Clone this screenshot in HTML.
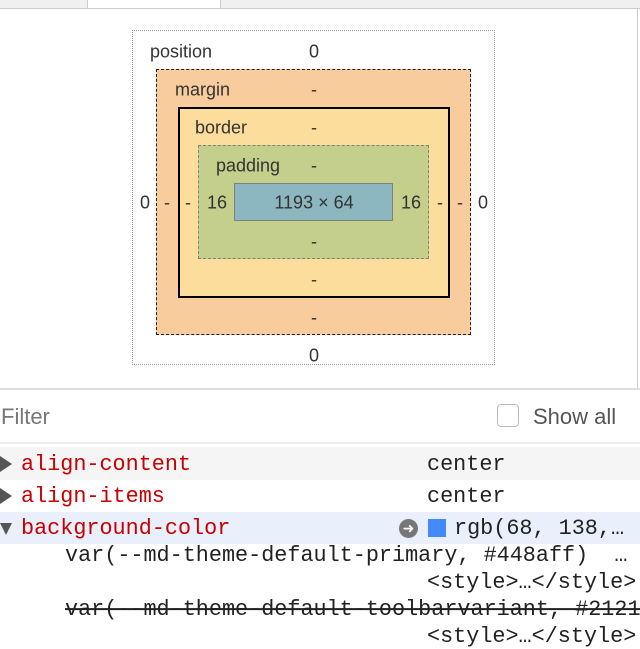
<!DOCTYPE html>
<html><head><style>
body{margin:0;width:640px;height:648px;background:#fff;position:relative;overflow:hidden;font-family:"Liberation Sans",sans-serif;color:#222}
.a{position:absolute}
.t{position:absolute;font-size:18px;transform:translate(-50%,-50%);white-space:nowrap;color:#333}
.tl{position:absolute;font-size:18px;transform:translateY(-50%);white-space:nowrap;color:#333}
.m{position:absolute;font-family:"Liberation Mono",monospace;font-size:21.8px;white-space:pre;line-height:1;transform:translateY(-50%)}
.r{color:#c80000}
</style></head><body>
<div class="a" style="left:0;top:0;width:640px;height:8px;background:#f0f0f0;border-bottom:1px solid #ccc"></div>
<div class="a" style="left:87px;top:0;width:132px;height:8px;background:#fff;border-left:1px solid #ccc;border-right:1px solid #ccc"></div>
<div class="a" style="left:637px;top:9px;width:1px;height:380px;background:#ccc"></div>

<div class="a" style="left:132px;top:30px;width:361px;height:333px;border:1px dotted #999"></div>
<div class="a" style="left:156px;top:69px;width:313px;height:264px;border:1px dashed #222;background:#f9cc9d"></div>
<div class="a" style="left:178px;top:107px;width:268px;height:187px;border:2px solid #000;background:#fddd9b"></div>
<div class="a" style="left:198px;top:145px;width:229px;height:112px;border:1px dashed #808080;background:#c3cf8a"></div>
<div class="a" style="left:234px;top:183px;width:157px;height:36px;border:1px solid #808080;background:#8cb6c0"></div>

<div class="tl" style="left:150px;top:52px">position</div><div class="t" style="left:314px;top:52px">0</div>
<div class="tl" style="left:175px;top:90px">margin</div><div class="t" style="left:314px;top:90px">-</div>
<div class="tl" style="left:195px;top:128px">border</div><div class="t" style="left:314px;top:128px">-</div>
<div class="tl" style="left:216px;top:166px">padding</div><div class="t" style="left:314px;top:166px">-</div>
<div class="t" style="left:145px;top:203px">0</div><div class="t" style="left:167px;top:203px">-</div><div class="t" style="left:188px;top:203px">-</div><div class="t" style="left:217px;top:203px">16</div>
<div class="t" style="left:314px;top:203px">1193 × 64</div>
<div class="t" style="left:411px;top:203px">16</div><div class="t" style="left:440px;top:203px">-</div><div class="t" style="left:460px;top:203px">-</div><div class="t" style="left:483px;top:203px">0</div>
<div class="t" style="left:314px;top:242px">-</div><div class="t" style="left:314px;top:280px">-</div><div class="t" style="left:314px;top:318px">-</div><div class="t" style="left:314px;top:356px">0</div>

<div class="a" style="left:0;top:388px;width:640px;height:2px;background:#ddd"></div>
<div class="tl" style="left:1px;top:417px;font-size:22px;color:#777">Filter</div>
<div class="a" style="left:497px;top:404px;width:20px;height:21px;border:1px solid #bbb;border-radius:4px"></div>
<div class="tl" style="left:533px;top:417px;font-size:22px;color:#555">Show all</div>
<div class="a" style="left:0;top:442px;width:640px;height:2px;background:#eee"></div>

<div class="a" style="left:0;top:447px;width:640px;height:33px;background:#f5f5f5"></div>
<div class="a" style="left:0;top:512px;width:640px;height:32px;background:#eaf0fb"></div>
<div class="a" style="left:0;top:456px;width:0;height:0;border-left:12px solid #555;border-top:8px solid transparent;border-bottom:8px solid transparent"></div>
<div class="a" style="left:0;top:488px;width:0;height:0;border-left:12px solid #555;border-top:8px solid transparent;border-bottom:8px solid transparent"></div>
<div class="a" style="left:0;top:523px;width:0;height:0;border-top:12px solid #555;border-left:6px solid transparent;border-right:6px solid transparent"></div>
<div class="m r" style="left:21px;top:465px">align-content</div><div class="m" style="left:427px;top:465px">center</div>
<div class="m r" style="left:21px;top:497px">align-items</div><div class="m" style="left:427px;top:497px">center</div>
<div class="m r" style="left:21px;top:529px">background-color</div>
<div class="a" style="left:399px;top:519px;width:19px;height:19px;border-radius:50%;background:#777;color:#fff;font-size:14px;line-height:19px;text-align:center">➜</div>
<div class="a" style="left:428px;top:519px;width:18px;height:18px;background:#448aff"></div>
<div class="m" style="left:454px;top:529px">rgb(68, 138,…</div>
<div class="m" style="left:65px;top:556px">var(--md-theme-default-primary, #448aff)  …</div>
<div class="m" style="left:427px;top:583px">&lt;style&gt;…&lt;/style&gt;</div>
<div class="m" style="left:65px;top:610px;text-decoration:line-through">var(--md-theme-default-toolbarvariant, #2121</div>
<div class="m" style="left:427px;top:637px">&lt;style&gt;…&lt;/style&gt;</div>
</body></html>
